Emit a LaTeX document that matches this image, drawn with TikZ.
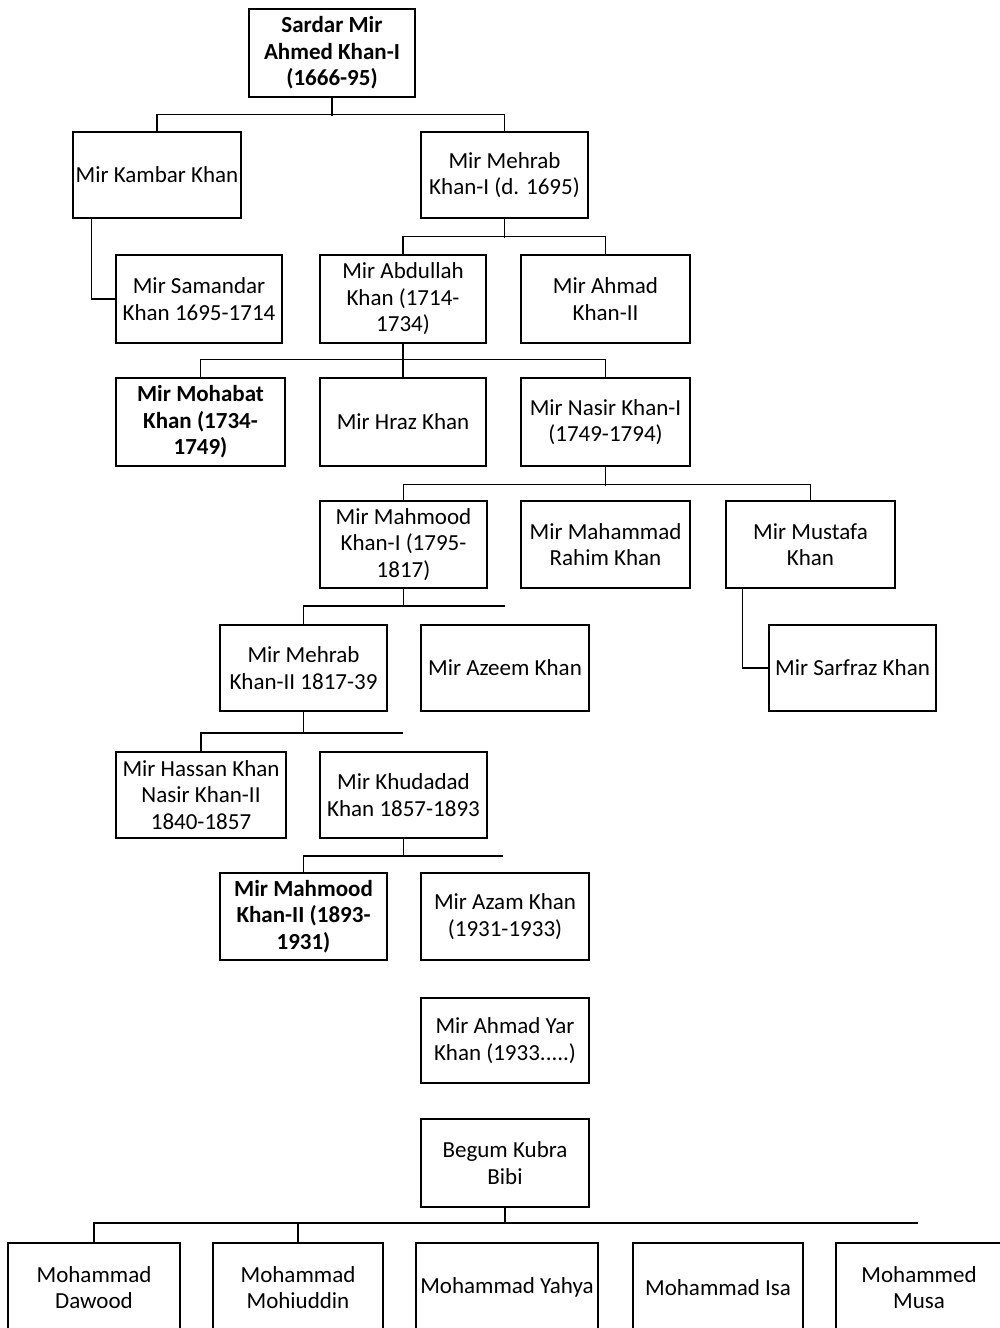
\documentclass[tikz,border=0pt]{standalone}
\usepackage{fontspec}
\setmainfont{Carlito}
\tikzset{
  person/.style={draw, line width=1.2pt, rectangle, inner sep=0pt, align=center,
    font=\fontsize{23}{26.5}\selectfont},
  boldperson/.style={person, font=\fontsize{23}{26.5}\selectfont\bfseries},
  conn/.style={line width=1.2pt}
}
\newcommand\kinbox[7][person]{\node[#1, minimum width={(#4-#3)*1pt}, minimum height={(#6-#5)*1pt}] (#2) at ({(#3+#4)/2},{(#5+#6)/2}) {#7};}
\begin{document}
\begin{tikzpicture}[x=1pt,y=-1pt]
\useasboundingbox (0,0) rectangle (999,1328);
\fill[white] (0,0) rectangle (999,1328);

\kinbox[boldperson]{sardar}{249}{415}{9}{97}{Sardar Mir\\Ahmed Khan-I\\(1666-95)}
\kinbox{kambar}{73}{241}{132}{218}{Mir Kambar Khan}
\kinbox{mehrabA}{421}{588}{132}{218}{Mir Mehrab\\Khan-I (d. 1695)}
\kinbox{samandar}{116}{282}{255}{343}{Mir Samandar\\Khan 1695-1714}
\kinbox{abdullah}{320}{486}{255}{343}{Mir Abdullah\\Khan (1714-\\1734)}
\kinbox{ahmadB}{521}{690}{255}{343}{Mir Ahmad\\Khan-II}
\kinbox[boldperson]{mohabat}{116}{285}{378}{466}{Mir Mohabat\\Khan (1734-\\1749)}
\kinbox{hraz}{320}{486}{378}{466}{Mir Hraz Khan}
\kinbox{nasir}{521}{690}{378}{466}{Mir Nasir Khan-I\\(1749-1794)}
\kinbox{mahmoodA}{320}{487}{501}{588}{Mir Mahmood\\Khan-I (1795-\\1817)}
\kinbox{rahim}{521}{690}{501}{588}{Mir Mahammad\\Rahim Khan}
\kinbox{mustafa}{726}{895}{501}{588}{Mir Mustafa\\Khan}
\kinbox{mehrabB}{220}{387}{625}{711}{Mir Mehrab\\Khan-II 1817-39}
\kinbox{azeem}{421}{589}{625}{711}{Mir Azeem Khan}
\kinbox{sarfraz}{769}{936}{625}{711}{Mir Sarfraz Khan}
\kinbox{hassan}{116}{286}{752}{838}{Mir Hassan Khan\\Nasir Khan-II\\1840-1857}
\kinbox{khudadad}{320}{487}{752}{838}{Mir Khudadad\\Khan 1857-1893}
\kinbox[boldperson]{mahmoodB}{220}{387}{873}{960}{Mir Mahmood\\Khan-II (1893-\\1931)}
\kinbox{azam}{421}{589}{873}{960}{Mir Azam Khan\\(1931-1933)}
\kinbox{yar}{421}{589}{998}{1083}{Mir Ahmad Yar\\Khan (1933.....)}
\kinbox{begum}{421}{589}{1119}{1207}{Begum Kubra\\Bibi}
\kinbox{dawood}{8}{180}{1243}{1332}{Mohammad\\Dawood}
\kinbox{mohiuddin}{213}{383}{1243}{1332}{Mohammad\\Mohiuddin}
\kinbox{yahya}{416}{598}{1243}{1332}{Mohammad Yahya}
\kinbox{isa}{633}{803}{1243}{1332}{Mohammad Isa}
\kinbox{musa}{836}{1002}{1243}{1332}{Mohammed\\Musa}

% Sardar
\draw[conn] (sardar.south) -- ++(0,18);
\draw[conn] (kambar.north) -- ++(0,-17) -| (mehrabA.north);
% Kambar -> Samandar
\draw[conn] ([xshift=19pt]kambar.south west) |- (samandar.west);
% Mehrab I
\draw[conn] (mehrabA.south) -- ++(0,19);
\draw[conn] (abdullah.north) -- ++(0,-18) -| (ahmadB.north);
% Abdullah
\draw[conn] (abdullah.south) -- (hraz.north);
\draw[conn] (mohabat.north) -- ++(0,-18) -| (nasir.north);
% Nasir
\draw[conn] (nasir.south) -- ++(0,19);
\draw[conn] (mahmoodA.north) -- ++(0,-16) -| (mustafa.north);
% Mustafa -> Sarfraz
\draw[conn] ([xshift=17pt]mustafa.south west) |- (sarfraz.west);
% Mahmood I
\coordinate (busE) at (505,606);
\draw[conn] (mahmoodA.south) -- ++(0,18);
\draw[conn] (mehrabB.north) |- (busE);
% Mehrab II
\coordinate (busF) at (403,733);
\draw[conn] (mehrabB.south) -- ++(0,22);
\draw[conn] (hassan.north) |- (busF);
% Khudadad
\coordinate (busG) at (503,856);
\draw[conn] (khudadad.south) -- ++(0,18);
\draw[conn] (mahmoodB.north) |- (busG);
% Begum
\coordinate (busH) at (918,1223);
\draw[conn] (begum.south) -- ++(0,16);
\draw[conn] (dawood.north) |- (busH);
\draw[conn] (mohiuddin.north) -- ++(0,-20);
\end{tikzpicture}
\end{document}
